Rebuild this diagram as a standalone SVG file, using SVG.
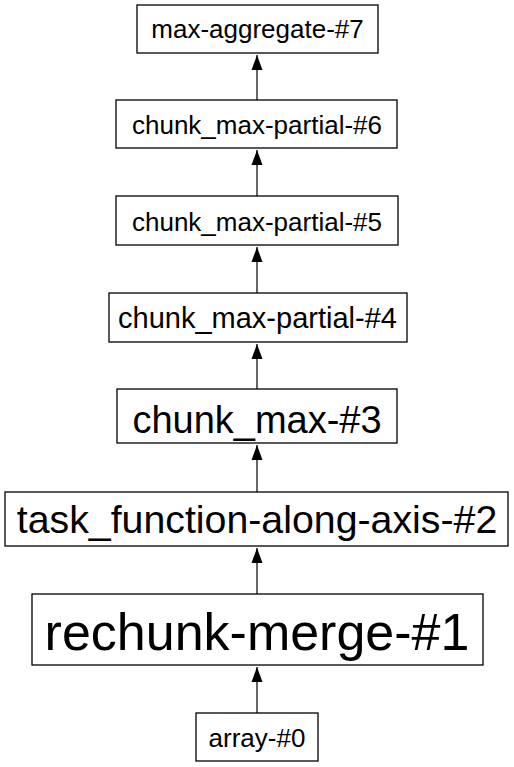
<svg xmlns="http://www.w3.org/2000/svg" width="514" height="767" viewBox="0 0 514 767">
<style>
.n rect{fill:#fff;stroke:#000;stroke-width:1.3}
.n text{font-family:"Liberation Sans",Arial,sans-serif;fill:#000;text-anchor:middle}
.e line{stroke:#333;stroke-width:1.5}
</style>
<defs>
<marker id="ah" markerWidth="11" markerHeight="15" refX="5.5" refY="0" orient="0" markerUnits="userSpaceOnUse" viewBox="0 0 11 15" overflow="visible">
<path d="M0,15 L5.5,0 L11,15 Z" fill="#000"/>
</marker>
</defs>
<rect width="514" height="767" fill="#fff"/>
<g id="edges" class="e">
<line x1="257" y1="100" x2="257" y2="55" marker-end="url(#ah)"/>
<line x1="257" y1="196" x2="257" y2="150" marker-end="url(#ah)"/>
<line x1="257" y1="293" x2="257" y2="247" marker-end="url(#ah)"/>
<line x1="257" y1="389" x2="257" y2="344" marker-end="url(#ah)"/>
<line x1="257" y1="492" x2="257" y2="445" marker-end="url(#ah)"/>
<line x1="257" y1="594" x2="257" y2="548" marker-end="url(#ah)"/>
<line x1="257" y1="713" x2="257" y2="667" marker-end="url(#ah)"/>
</g>
<g id="node7" class="n"><rect x="137" y="5" width="241" height="48"/><text x="257.5" y="38" font-size="26">max-aggregate-#7</text></g>
<g id="node6" class="n"><rect x="116" y="100" width="281" height="48"/><text x="257" y="134" font-size="26">chunk_max-partial-#6</text></g>
<g id="node5" class="n"><rect x="116" y="196" width="282" height="49"/><text x="257" y="231" font-size="26">chunk_max-partial-#5</text></g>
<g id="node4" class="n"><rect x="109" y="293" width="298" height="49"/><text x="257.5" y="328" font-size="29">chunk_max-partial-#4</text></g>
<g id="node3" class="n"><rect x="117" y="389" width="280" height="54"/><text x="257" y="433" font-size="38">chunk_max-#3</text></g>
<g id="node2" class="n"><rect x="5" y="492" width="503" height="54"/><text x="257" y="533" font-size="39.3">task_function-along-axis-#2</text></g>
<g id="node1" class="n"><rect x="32" y="594" width="451" height="71"/><text x="257" y="650" font-size="52">rechunk-merge-#1</text></g>
<g id="node0" class="n"><rect x="196" y="713" width="122" height="48"/><text x="257" y="747" font-size="26">array-#0</text></g>
</svg>
